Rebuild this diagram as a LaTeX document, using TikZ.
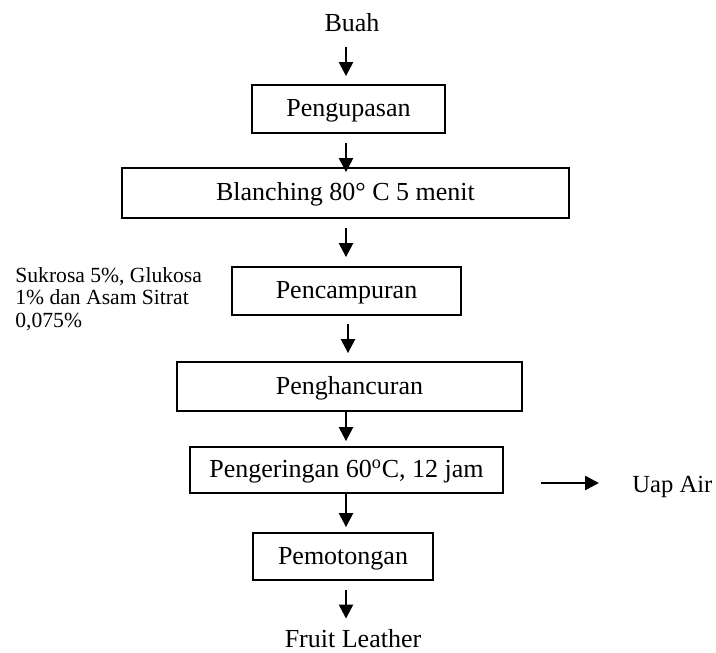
\documentclass[tikz,border=0pt]{standalone}
\usepackage{fontspec}
\setmainfont{Liberation Serif}
\usetikzlibrary{arrows.meta}

\begin{document}
\begin{tikzpicture}[x=0.5pt,y=-0.5pt,
			proses/.style={draw,line width=0.9pt,inner sep=0pt,text height=8.5pt,text depth=1pt,font=\fontsize{13}{15}\selectfont},
			teks/.style={inner sep=0pt,font=\fontsize{13}{15}\selectfont},
			alir/.style={-{Triangle[width=7pt,length=7pt]},line width=1.2pt}]
			\useasboundingbox (0,0) rectangle (716,652);
			\coordinate (kol) at (346,0);
			
			\node[teks,anchor=base] (buah) at (352,32){Buah};
			\node[proses,minimum width=96.5pt,minimum height=24pt] (kupas) at (348.5,109){Pengupasan};
			\node[proses,minimum width=223.5pt,minimum height=25pt] (blanch) at (345.5,193){Blanching 80° C 5 menit};
			\node[proses,minimum width=114.5pt,minimum height=24pt] (campur) at (346.5,291){Pencampuran};
			\node[proses,minimum width=172.5pt,minimum height=24.5pt] (hancur) at (349.5,386.5){Penghancuran};
			\node[proses,minimum width=156.5pt,minimum height=23pt] (kering) at (346.5,470){Pengeringan 60\textsuperscript{o}C, 12 jam};
			\node[proses,minimum width=90pt,minimum height=23.5pt] (potong) at (343,556.5){Pemotongan};
			\node[teks,anchor=base] (leather) at (353,647){Fruit Leather};
			
			\node[inner sep=0pt,anchor=north west,align=left,font=\fontsize{10.8}{11.3}\selectfont] (bahan) at (15,267){Sukrosa 5\%, Glukosa\\1\% dan Asam Sitrat\\0,075\%};
			\node[teks,anchor=base west,font=\fontsize{12.3}{14}\selectfont] (uap) at (632,492){Uap Air};
			
			\draw[alir,shorten <=7pt,shorten >=4pt]
			(kol |- buah.south) -- (kol |- kupas.north);
			\draw[alir,shorten <=4.5pt,shorten >=-2.5pt]
			(kol |- kupas.south) -- (kol |- blanch.north);
			\draw[alir,shorten <=4.5pt,shorten >=4.5pt]
			(kol |- blanch.south) -- (kol |- campur.north);
			\draw[alir,shorten <=4pt,shorten >=4pt]
			([xshift=1pt]kol |- campur.south) -- ([xshift=1pt]kol |- hancur.north);
			\draw[alir,shorten >=2.5pt]
			(kol |- hancur.south) -- (kol |- kering.north);
			\draw[alir,shorten >=2.5pt]
			(kol |- kering.south) -- (kol |- potong.north);
			\draw[alir,shorten <=4.5pt,shorten >=5pt]
			(kol |- potong.south) -- (kol |- leather.north);
			
			\coordinate (keluar) at ([yshift=-6.5pt]kering.east);
			\draw[alir,shorten <=18.5pt,shorten >=16.5pt]
			(keluar) -- (keluar -| uap.west);
		\end{tikzpicture}
\end{document}
